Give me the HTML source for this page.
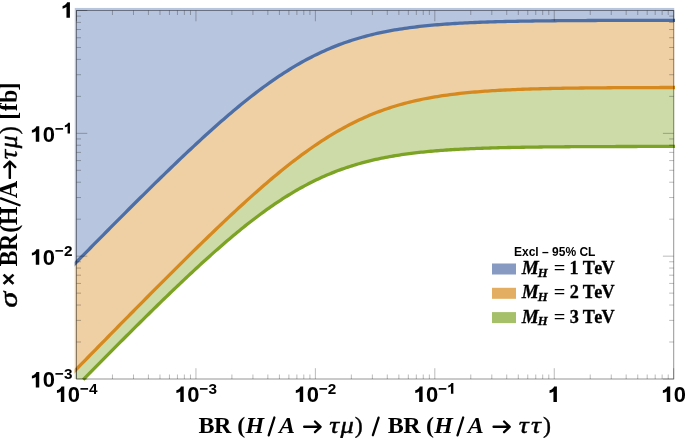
<!DOCTYPE html>
<html><head><meta charset="utf-8"><style>
html,body{margin:0;padding:0;background:#fff;width:685px;height:438px;overflow:hidden}
svg{display:block;will-change:transform}
</style></head><body>
<svg width="685" height="438" viewBox="0 0 685 438">
<defs>
<clipPath id="cf"><rect x="74.5" y="7.8" width="600.00" height="371.20"/></clipPath>
<clipPath id="cl"><rect x="74.7" y="2" width="600.30" height="384"/></clipPath>
</defs>
<g clip-path="url(#cf)">
<polygon fill="#b8c5de" points="74.50,7.80 674.50,7.80 674.50,20.31 672.00,20.31 669.50,20.31 667.00,20.32 664.50,20.32 662.00,20.32 659.50,20.32 657.00,20.33 654.50,20.33 652.00,20.33 649.50,20.34 647.00,20.34 644.50,20.35 642.00,20.35 639.50,20.35 637.00,20.36 634.50,20.36 632.00,20.37 629.50,20.37 627.00,20.38 624.50,20.39 622.00,20.39 619.50,20.40 617.00,20.41 614.50,20.41 612.00,20.42 609.50,20.43 607.00,20.44 604.50,20.45 602.00,20.46 599.50,20.46 597.00,20.47 594.50,20.49 592.00,20.50 589.50,20.51 587.00,20.52 584.50,20.53 582.00,20.55 579.50,20.56 577.00,20.58 574.50,20.59 572.00,20.61 569.50,20.62 567.00,20.64 564.50,20.66 562.00,20.68 559.50,20.70 557.00,20.72 554.50,20.75 552.00,20.77 549.50,20.80 547.00,20.82 544.50,20.85 542.00,20.88 539.50,20.91 537.00,20.94 534.50,20.97 532.00,21.01 529.50,21.05 527.00,21.08 524.50,21.12 522.00,21.17 519.50,21.21 517.00,21.26 514.50,21.31 512.00,21.36 509.50,21.41 507.00,21.47 504.50,21.53 502.00,21.59 499.50,21.65 497.00,21.72 494.50,21.79 492.00,21.87 489.50,21.94 487.00,22.03 484.50,22.11 482.00,22.20 479.50,22.30 477.00,22.39 474.50,22.50 472.00,22.60 469.50,22.72 467.00,22.84 464.50,22.96 462.00,23.09 459.50,23.23 457.00,23.37 454.50,23.52 452.00,23.67 449.50,23.84 447.00,24.01 444.50,24.19 442.00,24.37 439.50,24.57 437.00,24.77 434.50,24.98 432.00,25.21 429.50,25.44 427.00,25.68 424.50,25.94 422.00,26.20 419.50,26.48 417.00,26.77 414.50,27.07 412.00,27.38 409.50,27.71 407.00,28.05 404.50,28.41 402.00,28.78 399.50,29.17 397.00,29.57 394.50,29.99 392.00,30.43 389.50,30.89 387.00,31.36 384.50,31.85 382.00,32.37 379.50,32.90 377.00,33.45 374.50,34.02 372.00,34.62 369.50,35.24 367.00,35.88 364.50,36.54 362.00,37.23 359.50,37.95 357.00,38.68 354.50,39.45 352.00,40.24 349.50,41.05 347.00,41.90 344.50,42.77 342.00,43.67 339.50,44.59 337.00,45.55 334.50,46.54 332.00,47.55 329.50,48.60 327.00,49.67 324.50,50.77 322.00,51.91 319.50,53.08 317.00,54.27 314.50,55.50 312.00,56.76 309.50,58.05 307.00,59.37 304.50,60.72 302.00,62.10 299.50,63.51 297.00,64.96 294.50,66.43 292.00,67.94 289.50,69.47 287.00,71.03 284.50,72.63 282.00,74.25 279.50,75.90 277.00,77.58 274.50,79.29 272.00,81.02 269.50,82.78 267.00,84.57 264.50,86.38 262.00,88.22 259.50,90.09 257.00,91.97 254.50,93.89 252.00,95.82 249.50,97.78 247.00,99.76 244.50,101.77 242.00,103.79 239.50,105.83 237.00,107.90 234.50,109.98 232.00,112.08 229.50,114.20 227.00,116.34 224.50,118.49 222.00,120.67 219.50,122.85 217.00,125.06 214.50,127.27 212.00,129.51 209.50,131.75 207.00,134.01 204.50,136.28 202.00,138.57 199.50,140.87 197.00,143.18 194.50,145.50 192.00,147.83 189.50,150.17 187.00,152.52 184.50,154.88 182.00,157.25 179.50,159.63 177.00,162.01 174.50,164.41 172.00,166.81 169.50,169.22 167.00,171.64 164.50,174.06 162.00,176.49 159.50,178.93 157.00,181.37 154.50,183.82 152.00,186.27 149.50,188.73 147.00,191.19 144.50,193.66 142.00,196.14 139.50,198.61 137.00,201.10 134.50,203.58 132.00,206.07 129.50,208.57 127.00,211.06 124.50,213.57 122.00,216.07 119.50,218.58 117.00,221.09 114.50,223.60 112.00,226.11 109.50,228.63 107.00,231.15 104.50,233.68 102.00,236.20 99.50,238.73 97.00,241.26 94.50,243.79 92.00,246.32 89.50,248.86 87.00,251.39 84.50,253.93 82.00,256.47 79.50,259.01 77.00,261.55 74.50,264.10"/>
<polygon fill="#efd0a4" points="74.50,264.10 77.00,261.55 79.50,259.01 82.00,256.47 84.50,253.93 87.00,251.39 89.50,248.86 92.00,246.32 94.50,243.79 97.00,241.26 99.50,238.73 102.00,236.20 104.50,233.68 107.00,231.15 109.50,228.63 112.00,226.11 114.50,223.60 117.00,221.09 119.50,218.58 122.00,216.07 124.50,213.57 127.00,211.06 129.50,208.57 132.00,206.07 134.50,203.58 137.00,201.10 139.50,198.61 142.00,196.14 144.50,193.66 147.00,191.19 149.50,188.73 152.00,186.27 154.50,183.82 157.00,181.37 159.50,178.93 162.00,176.49 164.50,174.06 167.00,171.64 169.50,169.22 172.00,166.81 174.50,164.41 177.00,162.01 179.50,159.63 182.00,157.25 184.50,154.88 187.00,152.52 189.50,150.17 192.00,147.83 194.50,145.50 197.00,143.18 199.50,140.87 202.00,138.57 204.50,136.28 207.00,134.01 209.50,131.75 212.00,129.51 214.50,127.27 217.00,125.06 219.50,122.85 222.00,120.67 224.50,118.49 227.00,116.34 229.50,114.20 232.00,112.08 234.50,109.98 237.00,107.90 239.50,105.83 242.00,103.79 244.50,101.77 247.00,99.76 249.50,97.78 252.00,95.82 254.50,93.89 257.00,91.97 259.50,90.09 262.00,88.22 264.50,86.38 267.00,84.57 269.50,82.78 272.00,81.02 274.50,79.29 277.00,77.58 279.50,75.90 282.00,74.25 284.50,72.63 287.00,71.03 289.50,69.47 292.00,67.94 294.50,66.43 297.00,64.96 299.50,63.51 302.00,62.10 304.50,60.72 307.00,59.37 309.50,58.05 312.00,56.76 314.50,55.50 317.00,54.27 319.50,53.08 322.00,51.91 324.50,50.77 327.00,49.67 329.50,48.60 332.00,47.55 334.50,46.54 337.00,45.55 339.50,44.59 342.00,43.67 344.50,42.77 347.00,41.90 349.50,41.05 352.00,40.24 354.50,39.45 357.00,38.68 359.50,37.95 362.00,37.23 364.50,36.54 367.00,35.88 369.50,35.24 372.00,34.62 374.50,34.02 377.00,33.45 379.50,32.90 382.00,32.37 384.50,31.85 387.00,31.36 389.50,30.89 392.00,30.43 394.50,29.99 397.00,29.57 399.50,29.17 402.00,28.78 404.50,28.41 407.00,28.05 409.50,27.71 412.00,27.38 414.50,27.07 417.00,26.77 419.50,26.48 422.00,26.20 424.50,25.94 427.00,25.68 429.50,25.44 432.00,25.21 434.50,24.98 437.00,24.77 439.50,24.57 442.00,24.37 444.50,24.19 447.00,24.01 449.50,23.84 452.00,23.67 454.50,23.52 457.00,23.37 459.50,23.23 462.00,23.09 464.50,22.96 467.00,22.84 469.50,22.72 472.00,22.60 474.50,22.50 477.00,22.39 479.50,22.30 482.00,22.20 484.50,22.11 487.00,22.03 489.50,21.94 492.00,21.87 494.50,21.79 497.00,21.72 499.50,21.65 502.00,21.59 504.50,21.53 507.00,21.47 509.50,21.41 512.00,21.36 514.50,21.31 517.00,21.26 519.50,21.21 522.00,21.17 524.50,21.12 527.00,21.08 529.50,21.05 532.00,21.01 534.50,20.97 537.00,20.94 539.50,20.91 542.00,20.88 544.50,20.85 547.00,20.82 549.50,20.80 552.00,20.77 554.50,20.75 557.00,20.72 559.50,20.70 562.00,20.68 564.50,20.66 567.00,20.64 569.50,20.62 572.00,20.61 574.50,20.59 577.00,20.58 579.50,20.56 582.00,20.55 584.50,20.53 587.00,20.52 589.50,20.51 592.00,20.50 594.50,20.49 597.00,20.47 599.50,20.46 602.00,20.46 604.50,20.45 607.00,20.44 609.50,20.43 612.00,20.42 614.50,20.41 617.00,20.41 619.50,20.40 622.00,20.39 624.50,20.39 627.00,20.38 629.50,20.37 632.00,20.37 634.50,20.36 637.00,20.36 639.50,20.35 642.00,20.35 644.50,20.35 647.00,20.34 649.50,20.34 652.00,20.33 654.50,20.33 657.00,20.33 659.50,20.32 662.00,20.32 664.50,20.32 667.00,20.32 669.50,20.31 672.00,20.31 674.50,20.31 674.50,87.49 672.00,87.50 669.50,87.50 667.00,87.51 664.50,87.51 662.00,87.52 659.50,87.53 657.00,87.53 654.50,87.54 652.00,87.55 649.50,87.56 647.00,87.56 644.50,87.57 642.00,87.58 639.50,87.59 637.00,87.60 634.50,87.61 632.00,87.62 629.50,87.63 627.00,87.65 624.50,87.66 622.00,87.67 619.50,87.69 617.00,87.70 614.50,87.72 612.00,87.73 609.50,87.75 607.00,87.77 604.50,87.78 602.00,87.80 599.50,87.82 597.00,87.85 594.50,87.87 592.00,87.89 589.50,87.92 587.00,87.94 584.50,87.97 582.00,88.00 579.50,88.03 577.00,88.06 574.50,88.09 572.00,88.13 569.50,88.16 567.00,88.20 564.50,88.24 562.00,88.28 559.50,88.32 557.00,88.37 554.50,88.42 552.00,88.47 549.50,88.52 547.00,88.58 544.50,88.63 542.00,88.69 539.50,88.76 537.00,88.83 534.50,88.90 532.00,88.97 529.50,89.05 527.00,89.13 524.50,89.21 522.00,89.30 519.50,89.39 517.00,89.49 514.50,89.59 512.00,89.70 509.50,89.81 507.00,89.92 504.50,90.04 502.00,90.17 499.50,90.31 497.00,90.45 494.50,90.59 492.00,90.75 489.50,90.91 487.00,91.07 484.50,91.25 482.00,91.43 479.50,91.63 477.00,91.83 474.50,92.04 472.00,92.25 469.50,92.48 467.00,92.72 464.50,92.97 462.00,93.23 459.50,93.51 457.00,93.79 454.50,94.09 452.00,94.40 449.50,94.72 447.00,95.06 444.50,95.41 442.00,95.78 439.50,96.16 437.00,96.56 434.50,96.97 432.00,97.40 429.50,97.85 427.00,98.32 424.50,98.80 422.00,99.31 419.50,99.83 417.00,100.38 414.50,100.94 412.00,101.53 409.50,102.14 407.00,102.78 404.50,103.43 402.00,104.11 399.50,104.81 397.00,105.54 394.50,106.30 392.00,107.08 389.50,107.89 387.00,108.72 384.50,109.58 382.00,110.47 379.50,111.39 377.00,112.33 374.50,113.31 372.00,114.31 369.50,115.34 367.00,116.41 364.50,117.50 362.00,118.63 359.50,119.78 357.00,120.97 354.50,122.18 352.00,123.43 349.50,124.71 347.00,126.02 344.50,127.36 342.00,128.73 339.50,130.13 337.00,131.56 334.50,133.03 332.00,134.52 329.50,136.04 327.00,137.60 324.50,139.18 322.00,140.79 319.50,142.43 317.00,144.10 314.50,145.80 312.00,147.52 309.50,149.27 307.00,151.05 304.50,152.85 302.00,154.68 299.50,156.54 297.00,158.42 294.50,160.32 292.00,162.25 289.50,164.20 287.00,166.17 284.50,168.17 282.00,170.19 279.50,172.22 277.00,174.28 274.50,176.36 272.00,178.45 269.50,180.56 267.00,182.70 264.50,184.84 262.00,187.01 259.50,189.19 257.00,191.39 254.50,193.60 252.00,195.83 249.50,198.07 247.00,200.32 244.50,202.59 242.00,204.87 239.50,207.17 237.00,209.47 234.50,211.79 232.00,214.11 229.50,216.45 227.00,218.80 224.50,221.15 222.00,223.52 219.50,225.90 217.00,228.28 214.50,230.67 212.00,233.07 209.50,235.48 207.00,237.89 204.50,240.31 202.00,242.74 199.50,245.18 197.00,247.62 194.50,250.06 192.00,252.51 189.50,254.97 187.00,257.43 184.50,259.90 182.00,262.37 179.50,264.85 177.00,267.33 174.50,269.81 172.00,272.30 169.50,274.80 167.00,277.29 164.50,279.79 162.00,282.29 159.50,284.80 157.00,287.31 154.50,289.82 152.00,292.34 149.50,294.85 147.00,297.37 144.50,299.89 142.00,302.42 139.50,304.94 137.00,307.47 134.50,310.00 132.00,312.54 129.50,315.07 127.00,317.61 124.50,320.14 122.00,322.68 119.50,325.22 117.00,327.76 114.50,330.31 112.00,332.85 109.50,335.40 107.00,337.94 104.50,340.49 102.00,343.04 99.50,345.59 97.00,348.14 94.50,350.70 92.00,353.25 89.50,355.80 87.00,358.36 84.50,360.91 82.00,363.47 79.50,366.02 77.00,368.58 74.50,371.14"/>
<polygon fill="#cddba9" points="74.50,371.14 77.00,368.58 79.50,366.02 82.00,363.47 84.50,360.91 87.00,358.36 89.50,355.80 92.00,353.25 94.50,350.70 97.00,348.14 99.50,345.59 102.00,343.04 104.50,340.49 107.00,337.94 109.50,335.40 112.00,332.85 114.50,330.31 117.00,327.76 119.50,325.22 122.00,322.68 124.50,320.14 127.00,317.61 129.50,315.07 132.00,312.54 134.50,310.00 137.00,307.47 139.50,304.94 142.00,302.42 144.50,299.89 147.00,297.37 149.50,294.85 152.00,292.34 154.50,289.82 157.00,287.31 159.50,284.80 162.00,282.29 164.50,279.79 167.00,277.29 169.50,274.80 172.00,272.30 174.50,269.81 177.00,267.33 179.50,264.85 182.00,262.37 184.50,259.90 187.00,257.43 189.50,254.97 192.00,252.51 194.50,250.06 197.00,247.62 199.50,245.18 202.00,242.74 204.50,240.31 207.00,237.89 209.50,235.48 212.00,233.07 214.50,230.67 217.00,228.28 219.50,225.90 222.00,223.52 224.50,221.15 227.00,218.80 229.50,216.45 232.00,214.11 234.50,211.79 237.00,209.47 239.50,207.17 242.00,204.87 244.50,202.59 247.00,200.32 249.50,198.07 252.00,195.83 254.50,193.60 257.00,191.39 259.50,189.19 262.00,187.01 264.50,184.84 267.00,182.70 269.50,180.56 272.00,178.45 274.50,176.36 277.00,174.28 279.50,172.22 282.00,170.19 284.50,168.17 287.00,166.17 289.50,164.20 292.00,162.25 294.50,160.32 297.00,158.42 299.50,156.54 302.00,154.68 304.50,152.85 307.00,151.05 309.50,149.27 312.00,147.52 314.50,145.80 317.00,144.10 319.50,142.43 322.00,140.79 324.50,139.18 327.00,137.60 329.50,136.04 332.00,134.52 334.50,133.03 337.00,131.56 339.50,130.13 342.00,128.73 344.50,127.36 347.00,126.02 349.50,124.71 352.00,123.43 354.50,122.18 357.00,120.97 359.50,119.78 362.00,118.63 364.50,117.50 367.00,116.41 369.50,115.34 372.00,114.31 374.50,113.31 377.00,112.33 379.50,111.39 382.00,110.47 384.50,109.58 387.00,108.72 389.50,107.89 392.00,107.08 394.50,106.30 397.00,105.54 399.50,104.81 402.00,104.11 404.50,103.43 407.00,102.78 409.50,102.14 412.00,101.53 414.50,100.94 417.00,100.38 419.50,99.83 422.00,99.31 424.50,98.80 427.00,98.32 429.50,97.85 432.00,97.40 434.50,96.97 437.00,96.56 439.50,96.16 442.00,95.78 444.50,95.41 447.00,95.06 449.50,94.72 452.00,94.40 454.50,94.09 457.00,93.79 459.50,93.51 462.00,93.23 464.50,92.97 467.00,92.72 469.50,92.48 472.00,92.25 474.50,92.04 477.00,91.83 479.50,91.63 482.00,91.43 484.50,91.25 487.00,91.07 489.50,90.91 492.00,90.75 494.50,90.59 497.00,90.45 499.50,90.31 502.00,90.17 504.50,90.04 507.00,89.92 509.50,89.81 512.00,89.70 514.50,89.59 517.00,89.49 519.50,89.39 522.00,89.30 524.50,89.21 527.00,89.13 529.50,89.05 532.00,88.97 534.50,88.90 537.00,88.83 539.50,88.76 542.00,88.69 544.50,88.63 547.00,88.58 549.50,88.52 552.00,88.47 554.50,88.42 557.00,88.37 559.50,88.32 562.00,88.28 564.50,88.24 567.00,88.20 569.50,88.16 572.00,88.13 574.50,88.09 577.00,88.06 579.50,88.03 582.00,88.00 584.50,87.97 587.00,87.94 589.50,87.92 592.00,87.89 594.50,87.87 597.00,87.85 599.50,87.82 602.00,87.80 604.50,87.78 607.00,87.77 609.50,87.75 612.00,87.73 614.50,87.72 617.00,87.70 619.50,87.69 622.00,87.67 624.50,87.66 627.00,87.65 629.50,87.63 632.00,87.62 634.50,87.61 637.00,87.60 639.50,87.59 642.00,87.58 644.50,87.57 647.00,87.56 649.50,87.56 652.00,87.55 654.50,87.54 657.00,87.53 659.50,87.53 662.00,87.52 664.50,87.51 667.00,87.51 669.50,87.50 672.00,87.50 674.50,87.49 674.50,146.43 672.00,146.43 669.50,146.43 667.00,146.43 664.50,146.44 662.00,146.44 659.50,146.44 657.00,146.44 654.50,146.45 652.00,146.45 649.50,146.45 647.00,146.46 644.50,146.46 642.00,146.47 639.50,146.47 637.00,146.48 634.50,146.48 632.00,146.49 629.50,146.49 627.00,146.50 624.50,146.50 622.00,146.51 619.50,146.51 617.00,146.52 614.50,146.53 612.00,146.53 609.50,146.54 607.00,146.55 604.50,146.56 602.00,146.57 599.50,146.58 597.00,146.59 594.50,146.60 592.00,146.61 589.50,146.62 587.00,146.63 584.50,146.64 582.00,146.66 579.50,146.67 577.00,146.68 574.50,146.70 572.00,146.72 569.50,146.73 567.00,146.75 564.50,146.77 562.00,146.79 559.50,146.81 557.00,146.83 554.50,146.85 552.00,146.87 549.50,146.90 547.00,146.92 544.50,146.95 542.00,146.98 539.50,147.01 537.00,147.04 534.50,147.07 532.00,147.10 529.50,147.14 527.00,147.18 524.50,147.22 522.00,147.26 519.50,147.30 517.00,147.34 514.50,147.39 512.00,147.44 509.50,147.49 507.00,147.55 504.50,147.60 502.00,147.66 499.50,147.73 497.00,147.79 494.50,147.86 492.00,147.93 489.50,148.01 487.00,148.09 484.50,148.17 482.00,148.26 479.50,148.35 477.00,148.44 474.50,148.54 472.00,148.65 469.50,148.76 467.00,148.87 464.50,148.99 462.00,149.12 459.50,149.25 457.00,149.39 454.50,149.53 452.00,149.68 449.50,149.84 447.00,150.01 444.50,150.18 442.00,150.36 439.50,150.55 437.00,150.75 434.50,150.95 432.00,151.17 429.50,151.39 427.00,151.63 424.50,151.88 422.00,152.13 419.50,152.40 417.00,152.68 414.50,152.98 412.00,153.28 409.50,153.60 407.00,153.93 404.50,154.28 402.00,154.64 399.50,155.02 397.00,155.41 394.50,155.82 392.00,156.24 389.50,156.69 387.00,157.15 384.50,157.63 382.00,158.13 379.50,158.64 377.00,159.18 374.50,159.74 372.00,160.32 369.50,160.92 367.00,161.55 364.50,162.20 362.00,162.87 359.50,163.56 357.00,164.28 354.50,165.03 352.00,165.80 349.50,166.60 347.00,167.42 344.50,168.28 342.00,169.16 339.50,170.06 337.00,171.00 334.50,171.96 332.00,172.96 329.50,173.98 327.00,175.04 324.50,176.12 322.00,177.23 319.50,178.38 317.00,179.55 314.50,180.76 312.00,182.00 309.50,183.26 307.00,184.56 304.50,185.89 302.00,187.25 299.50,188.64 297.00,190.07 294.50,191.52 292.00,193.00 289.50,194.51 287.00,196.06 284.50,197.63 282.00,199.23 279.50,200.86 277.00,202.52 274.50,204.21 272.00,205.93 269.50,207.67 267.00,209.44 264.50,211.23 262.00,213.05 259.50,214.90 257.00,216.77 254.50,218.67 252.00,220.59 249.50,222.53 247.00,224.50 244.50,226.48 242.00,228.49 239.50,230.52 237.00,232.57 234.50,234.64 232.00,236.73 229.50,238.84 227.00,240.96 224.50,243.11 222.00,245.27 219.50,247.44 217.00,249.64 214.50,251.84 212.00,254.07 209.50,256.30 207.00,258.55 204.50,260.82 202.00,263.09 199.50,265.38 197.00,267.68 194.50,269.99 192.00,272.32 189.50,274.65 187.00,276.99 184.50,279.35 182.00,281.71 179.50,284.08 177.00,286.46 174.50,288.85 172.00,291.25 169.50,293.65 167.00,296.07 164.50,298.49 162.00,300.91 159.50,303.34 157.00,305.78 154.50,308.23 152.00,310.68 149.50,313.13 147.00,315.59 144.50,318.06 142.00,320.53 139.50,323.00 137.00,325.48 134.50,327.97 132.00,330.45 129.50,332.94 127.00,335.44 124.50,337.94 122.00,340.44 119.50,342.94 117.00,345.45 114.50,347.96 112.00,350.48 109.50,352.99 107.00,355.51 104.50,358.03 102.00,360.56 99.50,363.08 97.00,365.61 94.50,368.14 92.00,370.67 89.50,373.20 87.00,375.74 84.50,378.28 82.00,380.82 79.50,383.36 77.00,385.90 74.50,388.44"/>
</g>
<g clip-path="url(#cl)" fill="none" stroke-width="3.3" stroke-linejoin="round">
<polyline stroke="#4e6fa6" points="73.00,265.62 75.51,263.07 78.03,260.51 80.54,257.96 83.05,255.40 85.56,252.85 88.08,250.30 90.59,247.75 93.10,245.21 95.61,242.66 98.12,240.12 100.64,237.58 103.15,235.04 105.66,232.50 108.17,229.97 110.69,227.44 113.20,224.91 115.71,222.38 118.22,219.86 120.74,217.33 123.25,214.82 125.76,212.30 128.28,209.79 130.79,207.28 133.30,204.78 135.81,202.28 138.32,199.78 140.84,197.29 143.35,194.80 145.86,192.32 148.38,189.84 150.89,187.36 153.40,184.90 155.91,182.43 158.43,179.98 160.94,177.52 163.45,175.08 165.96,172.64 168.47,170.21 170.99,167.78 173.50,165.37 176.01,162.96 178.53,160.55 181.04,158.16 183.55,155.78 186.06,153.40 188.57,151.04 191.09,148.68 193.60,146.33 196.11,144.00 198.62,141.67 201.14,139.36 203.65,137.06 206.16,134.77 208.68,132.50 211.19,130.24 213.70,127.99 216.21,125.75 218.72,123.53 221.24,121.33 223.75,119.14 226.26,116.97 228.78,114.82 231.29,112.68 233.80,110.57 236.31,108.47 238.82,106.39 241.34,104.33 243.85,102.29 246.36,100.27 248.88,98.27 251.39,96.30 253.90,94.35 256.41,92.42 258.93,90.52 261.44,88.64 263.95,86.79 266.46,84.96 268.98,83.15 271.49,81.38 274.00,79.63 276.51,77.91 279.02,76.22 281.54,74.55 284.05,72.92 286.56,71.31 289.07,69.73 291.59,68.19 294.10,66.67 296.61,65.18 299.12,63.73 301.64,62.30 304.15,60.91 306.66,59.55 309.18,58.22 311.69,56.92 314.20,55.65 316.71,54.41 319.23,53.21 321.74,52.03 324.25,50.89 326.76,49.77 329.27,48.69 331.79,47.64 334.30,46.62 336.81,45.62 339.32,44.66 341.84,43.73 344.35,42.82 346.86,41.94 349.38,41.09 351.89,40.27 354.40,39.48 356.91,38.71 359.43,37.97 361.94,37.25 364.45,36.56 366.96,35.89 369.48,35.24 371.99,34.62 374.50,34.02 377.01,33.45 379.52,32.89 382.04,32.36 384.55,31.84 387.06,31.35 389.57,30.87 392.09,30.42 394.60,29.98 397.11,29.56 399.62,29.15 402.14,28.76 404.65,28.39 407.16,28.03 409.68,27.69 412.19,27.36 414.70,27.04 417.21,26.74 419.73,26.45 422.24,26.18 424.75,25.91 427.26,25.66 429.77,25.41 432.29,25.18 434.80,24.96 437.31,24.74 439.82,24.54 442.34,24.35 444.85,24.16 447.36,23.98 449.88,23.81 452.39,23.65 454.90,23.49 457.41,23.34 459.93,23.20 462.44,23.07 464.95,22.94 467.46,22.81 469.98,22.70 472.49,22.58 475.00,22.48 477.51,22.37 480.02,22.27 482.54,22.18 485.05,22.09 487.56,22.01 490.07,21.93 492.59,21.85 495.10,21.77 497.61,21.70 500.12,21.64 502.64,21.57 505.15,21.51 507.66,21.45 510.18,21.40 512.69,21.34 515.20,21.29 517.71,21.24 520.23,21.20 522.74,21.15 525.25,21.11 527.76,21.07 530.27,21.03 532.79,21.00 535.30,20.96 537.81,20.93 540.33,20.90 542.84,20.87 545.35,20.84 547.86,20.81 550.38,20.79 552.89,20.76 555.40,20.74 557.91,20.72 560.42,20.69 562.94,20.67 565.45,20.65 567.96,20.64 570.48,20.62 572.99,20.60 575.50,20.58 578.01,20.57 580.52,20.56 583.04,20.54 585.55,20.53 588.06,20.52 590.58,20.50 593.09,20.49 595.60,20.48 598.11,20.47 600.62,20.46 603.14,20.45 605.65,20.44 608.16,20.43 610.67,20.43 613.19,20.42 615.70,20.41 618.21,20.40 620.73,20.40 623.24,20.39 625.75,20.38 628.26,20.38 630.77,20.37 633.29,20.37 635.80,20.36 638.31,20.36 640.83,20.35 643.34,20.35 645.85,20.34 648.36,20.34 650.88,20.34 653.39,20.33 655.90,20.33 658.41,20.33 660.92,20.32 663.44,20.32 665.95,20.32 668.46,20.31 670.98,20.31 673.49,20.31 676.00,20.31"/>
<polyline stroke="#d6891e" points="73.00,372.68 75.51,370.10 78.03,367.53 80.54,364.96 83.05,362.39 85.56,359.83 88.08,357.26 90.59,354.69 93.10,352.12 95.61,349.56 98.12,347.00 100.64,344.43 103.15,341.87 105.66,339.31 108.17,336.75 110.69,334.19 113.20,331.63 115.71,329.07 118.22,326.52 120.74,323.96 123.25,321.41 125.76,318.86 128.28,316.31 130.79,313.76 133.30,311.22 135.81,308.67 138.32,306.13 140.84,303.59 143.35,301.05 145.86,298.52 148.38,295.99 150.89,293.46 153.40,290.93 155.91,288.40 158.43,285.88 160.94,283.36 163.45,280.84 165.96,278.33 168.47,275.82 170.99,273.31 173.50,270.81 176.01,268.31 178.53,265.82 181.04,263.33 183.55,260.84 186.06,258.36 188.57,255.88 191.09,253.41 193.60,250.94 196.11,248.48 198.62,246.03 201.14,243.58 203.65,241.14 206.16,238.70 208.68,236.27 211.19,233.85 213.70,231.44 216.21,229.03 218.72,226.63 221.24,224.24 223.75,221.86 226.26,219.49 228.78,217.13 231.29,214.78 233.80,212.44 236.31,210.11 238.82,207.79 241.34,205.48 243.85,203.18 246.36,200.90 248.88,198.63 251.39,196.38 253.90,194.13 256.41,191.91 258.93,189.70 261.44,187.50 263.95,185.32 266.46,183.16 268.98,181.01 271.49,178.88 274.00,176.77 276.51,174.68 279.02,172.61 281.54,170.56 284.05,168.53 286.56,166.52 289.07,164.54 291.59,162.57 294.10,160.63 296.61,158.71 299.12,156.82 301.64,154.95 304.15,153.11 306.66,151.29 309.18,149.50 311.69,147.74 314.20,146.00 316.71,144.29 319.23,142.61 321.74,140.96 324.25,139.34 326.76,137.74 329.27,136.18 331.79,134.65 334.30,133.14 336.81,131.67 339.32,130.23 341.84,128.82 344.35,127.44 346.86,126.09 349.38,124.77 351.89,123.49 354.40,122.23 356.91,121.01 359.43,119.82 361.94,118.65 364.45,117.52 366.96,116.42 369.48,115.35 371.99,114.32 374.50,113.31 377.01,112.33 379.52,111.38 382.04,110.46 384.55,109.56 387.06,108.70 389.57,107.86 392.09,107.05 394.60,106.27 397.11,105.51 399.62,104.78 402.14,104.07 404.65,103.39 407.16,102.73 409.68,102.10 412.19,101.49 414.70,100.90 417.21,100.33 419.73,99.79 422.24,99.26 424.75,98.75 427.26,98.27 429.77,97.80 432.29,97.35 434.80,96.92 437.31,96.51 439.82,96.11 442.34,95.73 444.85,95.36 447.36,95.01 449.88,94.67 452.39,94.35 454.90,94.04 457.41,93.74 459.93,93.46 462.44,93.19 464.95,92.93 467.46,92.68 469.98,92.44 472.49,92.21 475.00,91.99 477.51,91.78 480.02,91.58 482.54,91.39 485.05,91.21 487.56,91.04 490.07,90.87 492.59,90.71 495.10,90.56 497.61,90.41 500.12,90.27 502.64,90.14 505.15,90.01 507.66,89.89 510.18,89.78 512.69,89.67 515.20,89.56 517.71,89.46 520.23,89.36 522.74,89.27 525.25,89.18 527.76,89.10 530.27,89.02 532.79,88.94 535.30,88.87 537.81,88.80 540.33,88.74 542.84,88.67 545.35,88.61 547.86,88.56 550.38,88.50 552.89,88.45 555.40,88.40 557.91,88.35 560.42,88.31 562.94,88.26 565.45,88.22 567.96,88.18 570.48,88.15 572.99,88.11 575.50,88.08 578.01,88.05 580.52,88.01 583.04,87.99 585.55,87.96 588.06,87.93 590.58,87.91 593.09,87.88 595.60,87.86 598.11,87.84 600.62,87.81 603.14,87.79 605.65,87.78 608.16,87.76 610.67,87.74 613.19,87.72 615.70,87.71 618.21,87.69 620.73,87.68 623.24,87.66 625.75,87.65 628.26,87.64 630.77,87.63 633.29,87.62 635.80,87.61 638.31,87.60 640.83,87.59 643.34,87.58 645.85,87.57 648.36,87.56 650.88,87.55 653.39,87.54 655.90,87.54 658.41,87.53 660.92,87.52 663.44,87.52 665.95,87.51 668.46,87.51 670.98,87.50 673.49,87.49 676.00,87.49"/>
<polyline stroke="#7ca324" points="83.20,379.60 85.17,377.59 87.15,375.59 89.12,373.59 91.10,371.58 93.08,369.58 95.05,367.58 97.03,365.58 99.01,363.58 100.98,361.59 102.96,359.59 104.93,357.60 106.91,355.60 108.89,353.61 110.86,351.62 112.84,349.64 114.81,347.65 116.79,345.66 118.77,343.68 120.74,341.70 122.72,339.72 124.69,337.75 126.67,335.77 128.65,333.80 130.62,331.83 132.60,329.86 134.57,327.89 136.55,325.93 138.53,323.97 140.50,322.01 142.48,320.06 144.45,318.10 146.43,316.15 148.41,314.21 150.38,312.27 152.36,310.33 154.33,308.39 156.31,306.46 158.29,304.53 160.26,302.60 162.24,300.68 164.21,298.76 166.19,296.85 168.17,294.94 170.14,293.04 172.12,291.14 174.09,289.24 176.07,287.35 178.05,285.47 180.02,283.59 182.00,281.71 183.97,279.84 185.95,277.98 187.93,276.13 189.90,274.28 191.88,272.43 193.85,270.59 195.83,268.76 197.81,266.94 199.78,265.12 201.76,263.31 203.73,261.51 205.71,259.72 207.69,257.93 209.66,256.16 211.64,254.39 213.61,252.63 215.59,250.88 217.57,249.14 219.54,247.41 221.52,245.69 223.49,243.98 225.47,242.27 227.45,240.58 229.42,238.91 231.40,237.24 233.37,235.58 235.35,233.94 237.33,232.30 239.30,230.68 241.28,229.08 243.25,227.48 245.23,225.90 247.21,224.33 249.18,222.78 251.16,221.24 253.13,219.71 255.11,218.20 257.09,216.71 259.06,215.23 261.04,213.76 263.01,212.31 264.99,210.88 266.97,209.46 268.94,208.06 270.92,206.68 272.89,205.31 274.87,203.96 276.85,202.63 278.82,201.31 280.80,200.01 282.77,198.73 284.75,197.47 286.73,196.23 288.70,195.00 290.68,193.80 292.65,192.61 294.63,191.44 296.61,190.29 298.58,189.16 300.56,188.05 302.53,186.96 304.51,185.89 306.49,184.83 308.46,183.80 310.44,182.78 312.41,181.79 314.39,180.81 316.37,179.86 318.34,178.92 320.32,178.00 322.29,177.10 324.27,176.22 326.25,175.36 328.22,174.52 330.20,173.69 332.17,172.89 334.15,172.10 336.13,171.33 338.10,170.58 340.08,169.85 342.05,169.14 344.03,168.44 346.01,167.76 347.98,167.10 349.96,166.45 351.93,165.82 353.91,165.21 355.89,164.61 357.86,164.03 359.84,163.47 361.81,162.92 363.79,162.38 365.77,161.87 367.74,161.36 369.72,160.87 371.69,160.39 373.67,159.93 375.65,159.48 377.62,159.05 379.60,158.62 381.57,158.21 383.55,157.81 385.53,157.43 387.50,157.05 389.48,156.69 391.45,156.34 393.43,156.00 395.41,155.67 397.38,155.35 399.36,155.04 401.33,154.74 403.31,154.45 405.29,154.17 407.26,153.90 409.24,153.63 411.21,153.38 413.19,153.13 415.17,152.90 417.14,152.67 419.12,152.45 421.09,152.23 423.07,152.02 425.05,151.82 427.02,151.63 429.00,151.44 430.97,151.26 432.95,151.09 434.93,150.92 436.90,150.75 438.88,150.60 440.85,150.45 442.83,150.30 444.81,150.16 446.78,150.02 448.76,149.89 450.73,149.76 452.71,149.64 454.69,149.52 456.66,149.41 458.64,149.30 460.61,149.19 462.59,149.09 464.57,148.99 466.54,148.89 468.52,148.80 470.49,148.71 472.47,148.63 474.45,148.55 476.42,148.47 478.40,148.39 480.37,148.32 482.35,148.24 484.33,148.18 486.30,148.11 488.28,148.05 490.26,147.99 492.23,147.93 494.21,147.87 496.18,147.81 498.16,147.76 500.14,147.71 502.11,147.66 504.09,147.61 506.06,147.57 508.04,147.52 510.02,147.48 511.99,147.44 513.97,147.40 515.94,147.36 517.92,147.33 519.90,147.29 521.87,147.26 523.85,147.23 525.82,147.19 527.80,147.16 529.78,147.13 531.75,147.11 533.73,147.08 535.70,147.05 537.68,147.03 539.66,147.00 541.63,146.98 543.61,146.96 545.58,146.94 547.56,146.92 549.54,146.90 551.51,146.88 553.49,146.86 555.46,146.84 557.44,146.82 559.42,146.81 561.39,146.79 563.37,146.78 565.34,146.76 567.32,146.75 569.30,146.73 571.27,146.72 573.25,146.71 575.22,146.70 577.20,146.68 579.18,146.67 581.15,146.66 583.13,146.65 585.10,146.64 587.08,146.63 589.06,146.62 591.03,146.61 593.01,146.60 594.98,146.60 596.96,146.59 598.94,146.58 600.91,146.57 602.89,146.56 604.86,146.56 606.84,146.55 608.82,146.54 610.79,146.54 612.77,146.53 614.74,146.53 616.72,146.52 618.70,146.52 620.67,146.51 622.65,146.51 624.62,146.50 626.60,146.50 628.58,146.49 630.55,146.49 632.53,146.48 634.50,146.48 636.48,146.48 638.46,146.47 640.43,146.47 642.41,146.47 644.38,146.46 646.36,146.46 648.34,146.46 650.31,146.45 652.29,146.45 654.26,146.45 656.24,146.45 658.22,146.44 660.19,146.44 662.17,146.44 664.14,146.44 666.12,146.43 668.10,146.43 670.07,146.43 672.05,146.43 674.02,146.43 676.00,146.42"/>
</g>
<path d="M76.50,379.0v-10.8M76.50,10.5v10.8M112.46,379.0v-4.5M112.46,10.5v4.5M133.49,379.0v-4.5M133.49,10.5v4.5M148.41,379.0v-4.5M148.41,10.5v4.5M159.98,379.0v-4.5M159.98,10.5v4.5M169.44,379.0v-4.5M169.44,10.5v4.5M177.44,379.0v-4.5M177.44,10.5v4.5M184.37,379.0v-4.5M184.37,10.5v4.5M190.47,379.0v-4.5M190.47,10.5v4.5M195.94,379.0v-10.8M195.94,10.5v10.8M231.90,379.0v-4.5M231.90,10.5v4.5M252.93,379.0v-4.5M252.93,10.5v4.5M267.85,379.0v-4.5M267.85,10.5v4.5M279.42,379.0v-4.5M279.42,10.5v4.5M288.88,379.0v-4.5M288.88,10.5v4.5M296.88,379.0v-4.5M296.88,10.5v4.5M303.81,379.0v-4.5M303.81,10.5v4.5M309.91,379.0v-4.5M309.91,10.5v4.5M315.38,379.0v-10.8M315.38,10.5v10.8M351.34,379.0v-4.5M351.34,10.5v4.5M372.37,379.0v-4.5M372.37,10.5v4.5M387.29,379.0v-4.5M387.29,10.5v4.5M398.86,379.0v-4.5M398.86,10.5v4.5M408.32,379.0v-4.5M408.32,10.5v4.5M416.32,379.0v-4.5M416.32,10.5v4.5M423.25,379.0v-4.5M423.25,10.5v4.5M429.35,379.0v-4.5M429.35,10.5v4.5M434.82,379.0v-10.8M434.82,10.5v10.8M470.78,379.0v-4.5M470.78,10.5v4.5M491.81,379.0v-4.5M491.81,10.5v4.5M506.73,379.0v-4.5M506.73,10.5v4.5M518.30,379.0v-4.5M518.30,10.5v4.5M527.76,379.0v-4.5M527.76,10.5v4.5M535.76,379.0v-4.5M535.76,10.5v4.5M542.69,379.0v-4.5M542.69,10.5v4.5M548.79,379.0v-4.5M548.79,10.5v4.5M554.26,379.0v-10.8M554.26,10.5v10.8M590.22,379.0v-4.5M590.22,10.5v4.5M611.25,379.0v-4.5M611.25,10.5v4.5M626.17,379.0v-4.5M626.17,10.5v4.5M637.74,379.0v-4.5M637.74,10.5v4.5M647.20,379.0v-4.5M647.20,10.5v4.5M655.20,379.0v-4.5M655.20,10.5v4.5M662.13,379.0v-4.5M662.13,10.5v4.5M668.23,379.0v-4.5M668.23,10.5v4.5M673.70,379.0v-10.8M673.70,10.5v10.8M76.5,378.99h10.8M673.7,378.99h-10.8M76.5,342.01h4.5M673.7,342.01h-4.5M76.5,320.39h4.5M673.7,320.39h-4.5M76.5,305.04h4.5M673.7,305.04h-4.5M76.5,293.14h4.5M673.7,293.14h-4.5M76.5,283.41h4.5M673.7,283.41h-4.5M76.5,275.19h4.5M673.7,275.19h-4.5M76.5,268.06h4.5M673.7,268.06h-4.5M76.5,261.78h4.5M673.7,261.78h-4.5M76.5,256.16h10.8M673.7,256.16h-10.8M76.5,219.18h4.5M673.7,219.18h-4.5M76.5,197.56h4.5M673.7,197.56h-4.5M76.5,182.21h4.5M673.7,182.21h-4.5M76.5,170.31h4.5M673.7,170.31h-4.5M76.5,160.58h4.5M673.7,160.58h-4.5M76.5,152.36h4.5M673.7,152.36h-4.5M76.5,145.23h4.5M673.7,145.23h-4.5M76.5,138.95h4.5M673.7,138.95h-4.5M76.5,133.33h10.8M673.7,133.33h-10.8M76.5,96.35h4.5M673.7,96.35h-4.5M76.5,74.73h4.5M673.7,74.73h-4.5M76.5,59.38h4.5M673.7,59.38h-4.5M76.5,47.48h4.5M673.7,47.48h-4.5M76.5,37.75h4.5M673.7,37.75h-4.5M76.5,29.53h4.5M673.7,29.53h-4.5M76.5,22.40h4.5M673.7,22.40h-4.5M76.5,16.12h4.5M673.7,16.12h-4.5M76.5,10.50h10.8M673.7,10.50h-10.8" stroke="rgba(0,0,0,0.27)" stroke-width="1" fill="none"/>
<rect x="76.5" y="10.5" width="597.2" height="368.5" fill="none" stroke="rgba(0,0,0,0.42)" stroke-width="1"/>
<g fill="#000">
<path transform="translate(55.54,402.00) scale(22,-22)" d="M0.241,0L0.398,0L0.398,0.705L0.272,0.705C0.240,0.622 0.170,0.562 0.064,0.537L0.064,0.412C0.130,0.425 0.195,0.450 0.241,0.482Z"/><text x="67.78" y="402.00" font-family="Liberation Sans" font-weight="bold" font-size="22">0</text><text x="80.01" y="393.70" font-family="Liberation Sans" font-weight="bold" font-size="15.3">−</text><text x="88.95" y="393.70" font-family="Liberation Sans" font-weight="bold" font-size="15.3">4</text>
<path transform="translate(174.98,402.00) scale(22,-22)" d="M0.241,0L0.398,0L0.398,0.705L0.272,0.705C0.240,0.622 0.170,0.562 0.064,0.537L0.064,0.412C0.130,0.425 0.195,0.450 0.241,0.482Z"/><text x="187.22" y="402.00" font-family="Liberation Sans" font-weight="bold" font-size="22">0</text><text x="199.45" y="393.70" font-family="Liberation Sans" font-weight="bold" font-size="15.3">−</text><text x="208.39" y="393.70" font-family="Liberation Sans" font-weight="bold" font-size="15.3">3</text>
<path transform="translate(294.42,402.00) scale(22,-22)" d="M0.241,0L0.398,0L0.398,0.705L0.272,0.705C0.240,0.622 0.170,0.562 0.064,0.537L0.064,0.412C0.130,0.425 0.195,0.450 0.241,0.482Z"/><text x="306.66" y="402.00" font-family="Liberation Sans" font-weight="bold" font-size="22">0</text><text x="318.89" y="393.70" font-family="Liberation Sans" font-weight="bold" font-size="15.3">−</text><text x="327.83" y="393.70" font-family="Liberation Sans" font-weight="bold" font-size="15.3">2</text>
<path transform="translate(413.86,402.00) scale(22,-22)" d="M0.241,0L0.398,0L0.398,0.705L0.272,0.705C0.240,0.622 0.170,0.562 0.064,0.537L0.064,0.412C0.130,0.425 0.195,0.450 0.241,0.482Z"/><text x="426.10" y="402.00" font-family="Liberation Sans" font-weight="bold" font-size="22">0</text><text x="438.33" y="393.70" font-family="Liberation Sans" font-weight="bold" font-size="15.3">−</text><path transform="translate(447.27,393.70) scale(15.3,-15.3)" d="M0.241,0L0.398,0L0.398,0.705L0.272,0.705C0.240,0.622 0.170,0.562 0.064,0.537L0.064,0.412C0.130,0.425 0.195,0.450 0.241,0.482Z"/>
<path transform="translate(548.14,402.00) scale(22,-22)" d="M0.241,0L0.398,0L0.398,0.705L0.272,0.705C0.240,0.622 0.170,0.562 0.064,0.537L0.064,0.412C0.130,0.425 0.195,0.450 0.241,0.482Z"/>
<path transform="translate(661.46,402.00) scale(22,-22)" d="M0.241,0L0.398,0L0.398,0.705L0.272,0.705C0.240,0.622 0.170,0.562 0.064,0.537L0.064,0.412C0.130,0.425 0.195,0.450 0.241,0.482Z"/><text x="673.70" y="402.00" font-family="Liberation Sans" font-weight="bold" font-size="22">0</text>
<path transform="translate(61.16,17.70) scale(22,-22)" d="M0.241,0L0.398,0L0.398,0.705L0.272,0.705C0.240,0.622 0.170,0.562 0.064,0.537L0.064,0.412C0.130,0.425 0.195,0.450 0.241,0.482Z"/>
<path transform="translate(30.49,141.83) scale(22,-22)" d="M0.241,0L0.398,0L0.398,0.705L0.272,0.705C0.240,0.622 0.170,0.562 0.064,0.537L0.064,0.412C0.130,0.425 0.195,0.450 0.241,0.482Z"/><text x="42.72" y="141.83" font-family="Liberation Sans" font-weight="bold" font-size="22">0</text><text x="54.96" y="133.53" font-family="Liberation Sans" font-weight="bold" font-size="15.3">−</text><path transform="translate(63.89,133.53) scale(15.3,-15.3)" d="M0.241,0L0.398,0L0.398,0.705L0.272,0.705C0.240,0.622 0.170,0.562 0.064,0.537L0.064,0.412C0.130,0.425 0.195,0.450 0.241,0.482Z"/>
<path transform="translate(30.49,264.66) scale(22,-22)" d="M0.241,0L0.398,0L0.398,0.705L0.272,0.705C0.240,0.622 0.170,0.562 0.064,0.537L0.064,0.412C0.130,0.425 0.195,0.450 0.241,0.482Z"/><text x="42.72" y="264.66" font-family="Liberation Sans" font-weight="bold" font-size="22">0</text><text x="54.96" y="256.36" font-family="Liberation Sans" font-weight="bold" font-size="15.3">−</text><text x="63.89" y="256.36" font-family="Liberation Sans" font-weight="bold" font-size="15.3">2</text>
<path transform="translate(30.49,387.49) scale(22,-22)" d="M0.241,0L0.398,0L0.398,0.705L0.272,0.705C0.240,0.622 0.170,0.562 0.064,0.537L0.064,0.412C0.130,0.425 0.195,0.450 0.241,0.482Z"/><text x="42.72" y="387.49" font-family="Liberation Sans" font-weight="bold" font-size="22">0</text><text x="54.96" y="379.19" font-family="Liberation Sans" font-weight="bold" font-size="15.3">−</text><text x="63.89" y="379.19" font-family="Liberation Sans" font-weight="bold" font-size="15.3">3</text>
<text x="198.53" y="432.60" font-family="Liberation Serif" font-weight="bold" font-style="normal" font-size="24">B</text>
<text x="214.07" y="432.60" font-family="Liberation Serif" font-weight="bold" font-style="normal" font-size="24">R</text>
<text x="237.16" y="432.60" font-family="Liberation Serif" font-weight="bold" font-style="normal" font-size="24">(</text>
<text x="245.60" y="432.60" font-family="Liberation Serif" font-weight="bold" font-style="italic" font-size="24">H</text>
<text x="278.96" y="432.60" font-family="Liberation Serif" font-weight="bold" font-style="italic" font-size="24">A</text>
<text transform="translate(334.95,432.60) scale(1.15,1)" x="-4.92" y="0" font-family="Liberation Serif" font-weight="normal" font-style="italic" font-size="24" stroke="#000" stroke-width="0.45">τ</text>
<text transform="translate(346.60,432.60) scale(1.1,1)" x="-5.61" y="0" font-family="Liberation Serif" font-weight="normal" font-style="italic" font-size="24" stroke="#000" stroke-width="0.45">μ</text>
<text x="354.79" y="432.60" font-family="Liberation Serif" font-weight="normal" font-style="normal" font-size="24" stroke="#000" stroke-width="0.35">)</text>
<text x="387.73" y="432.60" font-family="Liberation Serif" font-weight="bold" font-style="normal" font-size="24">B</text>
<text x="403.17" y="432.60" font-family="Liberation Serif" font-weight="bold" font-style="normal" font-size="24">R</text>
<text x="426.06" y="432.60" font-family="Liberation Serif" font-weight="bold" font-style="normal" font-size="24">(</text>
<text x="434.35" y="432.60" font-family="Liberation Serif" font-weight="bold" font-style="italic" font-size="24">H</text>
<text x="467.76" y="432.60" font-family="Liberation Serif" font-weight="bold" font-style="italic" font-size="24">A</text>
<text transform="translate(524.30,432.60) scale(1.15,1)" x="-4.92" y="0" font-family="Liberation Serif" font-weight="normal" font-style="italic" font-size="24" stroke="#000" stroke-width="0.45">τ</text>
<text transform="translate(536.60,432.60) scale(1.15,1)" x="-4.92" y="0" font-family="Liberation Serif" font-weight="normal" font-style="italic" font-size="24" stroke="#000" stroke-width="0.45">τ</text>
<text x="542.89" y="432.60" font-family="Liberation Serif" font-weight="normal" font-style="normal" font-size="24" stroke="#000" stroke-width="0.35">)</text>
<path d="M268.70,435.30L274.40,417.50" stroke="#000" stroke-width="2.3" stroke-linecap="round" fill="none"/>
<path d="M372.90,435.20L378.60,417.70" stroke="#000" stroke-width="2.3" stroke-linecap="round" fill="none"/>
<path d="M457.50,435.30L463.20,417.50" stroke="#000" stroke-width="2.3" stroke-linecap="round" fill="none"/>
<path d="M304.20,426.80H320.00M315.00,421.50L320.60,426.80L315.00,432.10" fill="none" stroke="#000" stroke-width="2.4" stroke-linecap="round" stroke-linejoin="round"/>
<path d="M493.60,426.80H509.10M504.10,421.50L509.70,426.80L504.10,432.10" fill="none" stroke="#000" stroke-width="2.4" stroke-linecap="round" stroke-linejoin="round"/>
<g transform="translate(16.5,306.6) rotate(-90) scale(1,1.03)">
<text transform="translate(7.80,0.00) scale(1.35,1)" x="-6.66" y="0" font-family="Liberation Serif" font-weight="normal" font-style="italic" font-size="24" stroke="#000" stroke-width="0.45">σ</text>
<text x="20.67" y="0.00" font-family="Liberation Serif" font-weight="bold" font-style="normal" font-size="24" stroke="#000" stroke-width="0.7">×</text>
<text x="40.08" y="0.00" font-family="Liberation Serif" font-weight="bold" font-style="normal" font-size="24">B</text>
<text x="55.52" y="0.00" font-family="Liberation Serif" font-weight="bold" font-style="normal" font-size="24">R</text>
<text x="73.91" y="0.00" font-family="Liberation Serif" font-weight="bold" font-style="normal" font-size="24">(</text>
<text x="81.46" y="0.00" font-family="Liberation Serif" font-weight="bold" font-style="normal" font-size="24">H</text>
<text x="108.35" y="0.00" font-family="Liberation Serif" font-weight="bold" font-style="normal" font-size="24">A</text>
<text transform="translate(152.85,0.00) scale(1.1,1)" x="-4.92" y="0" font-family="Liberation Serif" font-weight="normal" font-style="italic" font-size="24" stroke="#000" stroke-width="0.45">τ</text>
<text transform="translate(164.25,0.00) scale(1.05,1)" x="-5.61" y="0" font-family="Liberation Serif" font-weight="normal" font-style="italic" font-size="24" stroke="#000" stroke-width="0.45">μ</text>
<text x="172.29" y="0.00" font-family="Liberation Serif" font-weight="normal" font-style="normal" font-size="24" stroke="#000" stroke-width="0.35">)</text>
<text x="186.75" y="0.00" font-family="Liberation Serif" font-weight="bold" font-style="normal" font-size="24">[</text>
<text x="195.25" y="0.00" font-family="Liberation Serif" font-weight="bold" font-style="normal" font-size="24">f</text>
<text x="203.56" y="0.00" font-family="Liberation Serif" font-weight="bold" font-style="normal" font-size="24">b</text>
<text x="216.21" y="0.00" font-family="Liberation Serif" font-weight="bold" font-style="normal" font-size="24">]</text>
<path d="M128.70,-6.50H144.50M139.50,-11.80L145.10,-6.50L139.50,-1.20" fill="none" stroke="#000" stroke-width="2.4" stroke-linecap="round" stroke-linejoin="round"/>
<path d="M101.30,3.00L108.20,-15.20" stroke="#000" stroke-width="2.2" stroke-linecap="round" fill="none"/>
</g>
<text x="514.0" y="255.9" font-family="Liberation Sans" font-weight="bold" font-size="12">Excl – 95% CL</text>
<rect x="492" y="263.50" width="24" height="11" fill="#869ac2"/>
<text transform="translate(530.45,274.10) scale(1.05,1)" x="-8.22" y="0" font-family="Liberation Serif" font-weight="bold" font-style="italic" font-size="18.2" stroke="#000" stroke-width="0.3">M</text>
<text x="537.66" y="276.60" font-family="Liberation Serif" font-weight="bold" font-style="italic" font-size="12.8" stroke="#000" stroke-width="0.3">H</text>
<text transform="translate(559.40,274.10) scale(1.12,1)" x="-5.14" y="0" font-family="Liberation Serif" font-weight="bold" font-style="normal" font-size="18.2">=</text>
<text x="569.49" y="274.10" font-family="Liberation Serif" font-weight="bold" font-style="normal" font-size="18.2" stroke="#000" stroke-width="0.3">1</text>
<text x="582.73" y="274.10" font-family="Liberation Serif" font-weight="bold" font-style="normal" font-size="18.2" stroke="#000" stroke-width="0.3">T</text>
<text x="594.34" y="274.10" font-family="Liberation Serif" font-weight="bold" font-style="normal" font-size="18.2" stroke="#000" stroke-width="0.3">e</text>
<text x="601.38" y="274.10" font-family="Liberation Serif" font-weight="bold" font-style="normal" font-size="18.2" stroke="#000" stroke-width="0.3">V</text>
<rect x="492" y="287.80" width="24" height="11" fill="#e3ad62"/>
<text transform="translate(530.45,298.40) scale(1.05,1)" x="-8.22" y="0" font-family="Liberation Serif" font-weight="bold" font-style="italic" font-size="18.2" stroke="#000" stroke-width="0.3">M</text>
<text x="537.66" y="300.90" font-family="Liberation Serif" font-weight="bold" font-style="italic" font-size="12.8" stroke="#000" stroke-width="0.3">H</text>
<text transform="translate(559.40,298.40) scale(1.12,1)" x="-5.14" y="0" font-family="Liberation Serif" font-weight="bold" font-style="normal" font-size="18.2">=</text>
<text x="569.76" y="298.40" font-family="Liberation Serif" font-weight="bold" font-style="normal" font-size="18.2" stroke="#000" stroke-width="0.3">2</text>
<text x="582.73" y="298.40" font-family="Liberation Serif" font-weight="bold" font-style="normal" font-size="18.2" stroke="#000" stroke-width="0.3">T</text>
<text x="594.34" y="298.40" font-family="Liberation Serif" font-weight="bold" font-style="normal" font-size="18.2" stroke="#000" stroke-width="0.3">e</text>
<text x="601.38" y="298.40" font-family="Liberation Serif" font-weight="bold" font-style="normal" font-size="18.2" stroke="#000" stroke-width="0.3">V</text>
<rect x="492" y="312.10" width="24" height="11" fill="#a6c06a"/>
<text transform="translate(530.45,322.70) scale(1.05,1)" x="-8.22" y="0" font-family="Liberation Serif" font-weight="bold" font-style="italic" font-size="18.2" stroke="#000" stroke-width="0.3">M</text>
<text x="537.66" y="325.20" font-family="Liberation Serif" font-weight="bold" font-style="italic" font-size="12.8" stroke="#000" stroke-width="0.3">H</text>
<text transform="translate(559.40,322.70) scale(1.12,1)" x="-5.14" y="0" font-family="Liberation Serif" font-weight="bold" font-style="normal" font-size="18.2">=</text>
<text x="569.72" y="322.70" font-family="Liberation Serif" font-weight="bold" font-style="normal" font-size="18.2" stroke="#000" stroke-width="0.3">3</text>
<text x="582.73" y="322.70" font-family="Liberation Serif" font-weight="bold" font-style="normal" font-size="18.2" stroke="#000" stroke-width="0.3">T</text>
<text x="594.34" y="322.70" font-family="Liberation Serif" font-weight="bold" font-style="normal" font-size="18.2" stroke="#000" stroke-width="0.3">e</text>
<text x="601.38" y="322.70" font-family="Liberation Serif" font-weight="bold" font-style="normal" font-size="18.2" stroke="#000" stroke-width="0.3">V</text>
</g>
</svg>
</body></html>
